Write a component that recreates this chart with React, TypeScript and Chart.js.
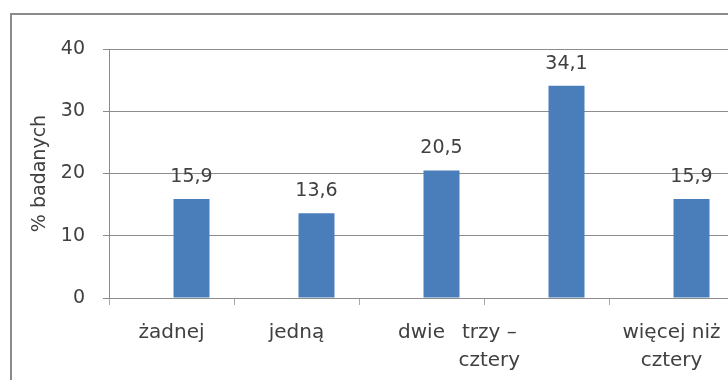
import React, { useEffect, useRef } from "react";
import { Chart, registerables } from "chart.js";

Chart.register(...registerables);

const categories: string[][] = [
  ["żadnej"],
  ["jedną"],
  ["dwie"],
  ["trzy –", "cztery"],
  ["więcej niż", "cztery"],
];
const values: number[] = [15.9, 13.6, 20.5, 34.1, 15.9];
const emptySeries: (number | null)[] = [null, null, null, null, null];
const yMin = 0;
const yMax = 40;
const yStep = 10;
const yTitle = "% badanych";

const FONT = "'DejaVu Sans', sans-serif";
const TEXT = "#404040";
const GRID = "#8c8c8c";
const BAR = "#4A7EBB";

const valueLabels = {
  id: "valueLabels",
  afterDatasetsDraw(chart: any) {
    const ctx = chart.ctx;
    const meta = chart.getDatasetMeta(1);
    ctx.save();
    ctx.font = `19px ${FONT}`;
    ctx.fillStyle = TEXT;
    ctx.textAlign = "center";
    ctx.textBaseline = "alphabetic";
    meta.data.forEach((el: any, i: number) => {
      const v = values[i];
      ctx.fillText(v.toFixed(1).replace(".", ","), el.x, el.y - 17);
    });
    ctx.restore();
  },
};

export default function App() {
  const ref = useRef<HTMLCanvasElement | null>(null);

  useEffect(() => {
    if (!ref.current) return;
    const chart = new Chart(ref.current, {
      type: "bar",
      data: {
        labels: categories,
        datasets: [
          {
            label: "",
            data: emptySeries,
            backgroundColor: "transparent",
          },
          {
            label: yTitle,
            data: values,
            backgroundColor: BAR,
            borderWidth: 0,
          },
        ],
      },
      options: {
        responsive: false,
        animation: false,
        events: [],
        categoryPercentage: 0.64,
        barPercentage: 0.9,
        layout: { padding: { left: 0, top: 34, right: 18, bottom: 0 } },
        plugins: {
          legend: { display: false },
          tooltip: { enabled: false },
        },
        scales: {
          x: {
            offset: true,
            grid: {
              offset: true,
              drawOnChartArea: false,
              drawTicks: true,
              tickLength: 7,
              color: "#a8a8a8",
            },
            border: { color: GRID },
            ticks: {
              autoSkip: false,
              maxRotation: 0,
              minRotation: 0,
              padding: 14,
              color: TEXT,
              font: { family: FONT, size: 20, lineHeight: 1.38 },
              callback: function (this: any, value: any, index: number) {
                const lines = categories[index];
                if (index === 3) {
                  return lines.map((l) => l + "\u00A0".repeat(18));
                }
                return lines;
              },
            },
            afterFit: (s: any) => {
              s.height = 97;
            },
          },
          y: {
            min: yMin,
            max: yMax,
            ticks: {
              stepSize: yStep,
              padding: 18,
              color: TEXT,
              font: { family: FONT, size: 19 },
            },
            grid: { color: GRID, tickLength: 6, tickColor: GRID },
            border: { color: GRID },
            title: {
              display: true,
              text: yTitle,
              color: TEXT,
              font: { family: FONT, size: 19 },
              padding: { top: 17, bottom: 0 },
            },
            afterFit: (s: any) => {
              s.width = 97;
            },
          },
        },
      },
      plugins: [valueLabels],
    });
    return () => chart.destroy();
  }, []);

  return (
    <div
      style={{
        position: "fixed",
        left: 0,
        top: 0,
        width: 728,
        height: 380,
        overflow: "hidden",
        background: "#fff",
      }}
    >
      <div
        style={{
          position: "absolute",
          left: 10,
          top: 13,
          width: 800,
          height: 420,
          border: "2px solid #8a8a8a",
          boxSizing: "border-box",
        }}
      >
        <div style={{ position: "absolute", left: 0, top: 0 }}>
          <canvas ref={ref} width={740} height={380} style={{ display: "block" }} />
        </div>
      </div>
    </div>
  );
}
